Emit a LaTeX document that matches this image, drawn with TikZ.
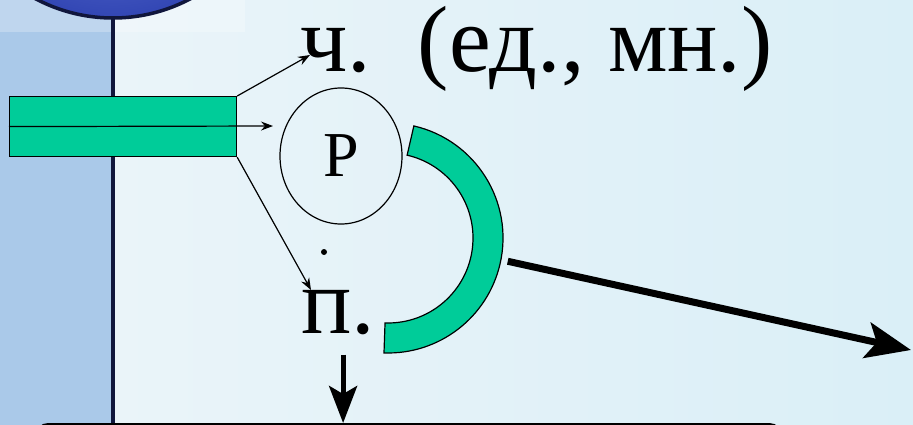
\documentclass[tikz,border=0pt]{standalone}
\usepackage{fontspec}
\setmainfont{Liberation Serif}
\usepackage{tikz}
\usetikzlibrary{arrows.meta,positioning,shapes.geometric,calc}

\definecolor{barGreen}{RGB}{0,204,153}
\definecolor{bgLeft}{RGB}{170,201,233}
\definecolor{bgMid}{RGB}{234,244,249}
\definecolor{bgRight}{RGB}{218,239,247}
\definecolor{ballBlue}{RGB}{50,70,180}
\definecolor{ballLight}{RGB}{120,140,225}
\definecolor{ballEdge}{RGB}{16,22,60}

\begin{document}
\begin{tikzpicture}[x=1pt, y=-1pt,
  every node/.style={inner sep=0pt},
  bigtext/.style={font=\fontsize{94}{98}\selectfont},
  midtext/.style={font=\fontsize{64}{66}\selectfont},
  thinarrow/.style={-{Stealth[length=12pt,width=9pt,inset=4pt]}, line width=1.2pt},
  bigarrow/.style={-{Stealth[length=45pt,width=36pt,inset=10pt]}, line width=7pt},
  downarrow/.style={-{Stealth[length=37pt,width=28pt,inset=8pt]}, line width=5pt}]

  % background
  \clip (0,0) rectangle (913,425);
  \fill[bgLeft] (0,0) rectangle (113,425);
  \shade[left color=bgMid, right color=bgRight] (113,0) rectangle (913,425);
  \fill[white, opacity=0.25] (0,0) rectangle (245,32);
  \shade[inner color=ballLight, outer color=ballBlue] (113,-147) circle[radius=165];
  \draw[ballEdge, line width=3.5pt] (113,-147) circle[radius=165];
  \draw[ballEdge, line width=4pt] (113,18) -- (113,425);

  \node[draw, fill=white, rounded corners=12pt, line width=2.5pt,
        minimum width=745pt, minimum height=80pt, anchor=north west] (box) at (35,423) {};

  % green bar and its three arrows
  \node[draw, fill=barGreen, line width=1.2pt, minimum width=227pt,
        minimum height=60pt, anchor=north west] (bar) at (9,96) {};

  \node[bigtext, anchor=base west] (num) at (300,72) {ч.\ \ (ед., мн.)};
  \node[draw, ellipse, midtext, line width=1.2pt, minimum width=122pt,
        minimum height=136pt] (case) at (341,156) {Р};
  \node[circle, fill, minimum size=6pt] (dot) at (324,252) {};
  \node[bigtext, anchor=base west] (pers) at (301,333) {п.};

  \coordinate (numtip) at (310,55);
  \coordinate (casetip) at (273,126);
  \coordinate (perstip) at (311,290);

  \draw[thinarrow] (bar.north east) -- (numtip);
  \draw[thinarrow] (bar.west) -- (casetip);
  \draw[thinarrow] (bar.south east) -- (perstip);

  % hook
  \coordinate (hook) at (388,238);
  \draw[fill=barGreen, line width=1.2pt] ($(hook)+(-77:115)$)
    arc[start angle=-77, end angle=92, radius=115]
    -- ($(hook)+(92:85)$) arc[start angle=92, end angle=-77, radius=85] -- cycle;

  \coordinate (far) at (911,350);
  \draw[bigarrow] ($(hook)+(11:122)$) -- (far);

  \draw[downarrow] ([xshift=5pt,yshift=-20pt]pers.south) -- ([xshift=5pt]pers.south |- box.north);
\end{tikzpicture}
\end{document}
